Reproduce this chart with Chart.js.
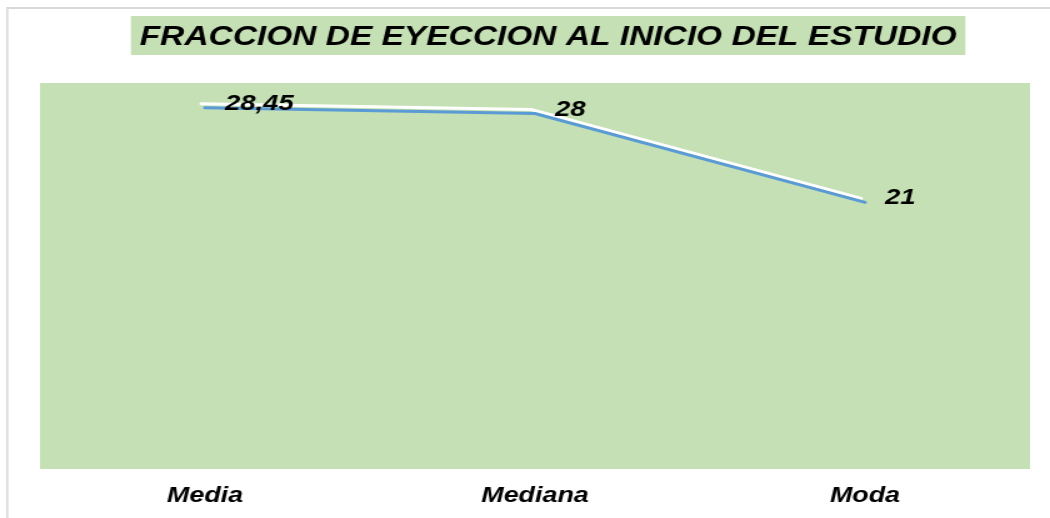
<!DOCTYPE html>
<html>
<head>
<meta charset="utf-8">
<script src="https://cdn.jsdelivr.net/npm/chart.js@4/dist/chart.umd.min.js"></script>
<style>
  html, body { margin: 0; padding: 0; background: #fff; overflow: hidden; }
  /* the original picture is stretched sideways, so the canvas is too */
  #chart { display: block; transform: scaleX(1.25); transform-origin: 0 0; }
</style>
</head>
<body>
<canvas id="chart" width="840" height="518"></canvas>
<script>
const chartTitle = 'FRACCION DE EYECCION AL INICIO DEL ESTUDIO';
const categories = ['Media', 'Mediana', 'Moda'];
const values = [28.45, 28, 21];
const valueLabels = ['28,45', '28', '21'];
const yMin = 0;
const yMax = 30.4;

const FONT = '"Liberation Sans", Arial, sans-serif';
const GREEN = '#C5E0B4';

const framePlugin = {
  id: 'frame',
  beforeDraw(chart) {
    const { ctx, chartArea: a, width, height } = chart;
    ctx.save();
    ctx.fillStyle = '#fff';
    ctx.fillRect(0, 0, width, height);
    // outer border, only top and left show
    ctx.fillStyle = '#d9d9d9';
    ctx.fillRect(5, 7, width, 2);
    ctx.fillRect(5, 7, 1.6, height);
    // plot area
    ctx.fillStyle = GREEN;
    ctx.fillRect(a.left, a.top, a.right - a.left, a.bottom - a.top);
    // title with its own green box
    ctx.font = 'italic bold 26.8px ' + FONT;
    const w = ctx.measureText(chartTitle).width;
    const cx = 438.5;
    ctx.fillStyle = GREEN;
    ctx.fillRect(cx - w / 2 - 7, 16, w + 14, 39);
    ctx.fillStyle = '#000';
    ctx.textAlign = 'center';
    ctx.textBaseline = 'middle';
    ctx.fillText(chartTitle, cx, 38);
    ctx.restore();
  },
};

const shadowPlugin = {
  id: 'lineShadow',
  beforeDatasetDraw(chart) {
    const ctx = chart.ctx;
    ctx.save();
    ctx.shadowColor = '#ffffff';
    ctx.shadowOffsetX = -3;
    ctx.shadowOffsetY = -4;
    ctx.shadowBlur = 0.5;
  },
  afterDatasetDraw(chart) {
    chart.ctx.restore();
  },
};

const labelPlugin = {
  id: 'valueLabels',
  afterDatasetsDraw(chart) {
    const ctx = chart.ctx;
    const pts = chart.getDatasetMeta(0).data;
    ctx.save();
    ctx.font = 'italic bold 22px ' + FONT;
    ctx.fillStyle = '#000';
    ctx.textAlign = 'left';
    ctx.textBaseline = 'middle';
    pts.forEach((p, i) => {
      ctx.fillText(valueLabels[i], p.x + 16, p.y - 4);
    });
    ctx.restore();
  },
};

new Chart(document.getElementById('chart'), {
  type: 'line',
  data: {
    labels: categories,
    datasets: [{
      data: values,
      borderColor: '#5B9BD5',
      borderWidth: 3,
      borderCapStyle: 'round',
      pointRadius: 0,
      tension: 0,
      fill: false,
    }],
  },
  options: {
    responsive: false,
    animation: false,
    devicePixelRatio: 1,
    layout: { padding: { left: 32, right: 16, top: 83, bottom: 0 } },
    plugins: {
      legend: { display: false },
      title: { display: false },
      tooltip: { enabled: false },
    },
    scales: {
      x: {
        offset: true,
        grid: { display: false, drawTicks: false },
        border: { display: false },
        ticks: {
          color: '#000',
          padding: 14,
          font: { family: FONT, size: 21.5, weight: 'bold', style: 'italic' },
        },
        afterFit(scale) { scale.height = 49; },
      },
      y: { display: false, min: yMin, max: yMax },
    },
  },
  plugins: [framePlugin, shadowPlugin, labelPlugin],
});
</script>
</body>
</html>
